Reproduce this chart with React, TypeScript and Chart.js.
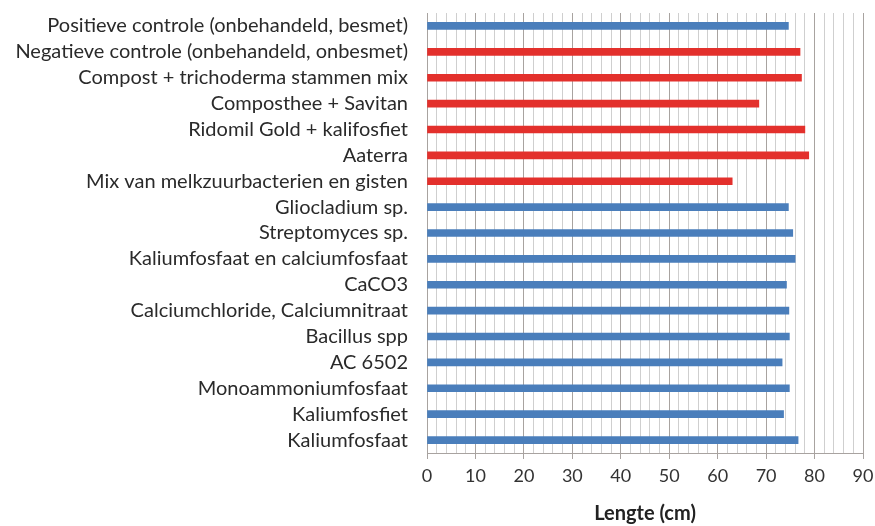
import React, { useEffect, useRef } from "react";
import { Chart, registerables } from "chart.js";

Chart.register(...registerables);

const categories = [
  "Positieve controle (onbehandeld, besmet)",
  "Negatieve controle (onbehandeld, onbesmet)",
  "Compost + trichoderma stammen mix",
  "Composthee + Savitan",
  "Ridomil Gold + kalifosfiet",
  "Aaterra",
  "Mix van melkzuurbacterien en gisten",
  "Gliocladium sp.",
  "Streptomyces sp.",
  "Kaliumfosfaat en calciumfosfaat",
  "CaCO3",
  "Calciumchloride, Calciumnitraat",
  "Bacillus spp",
  "AC 6502",
  "Monoammoniumfosfaat",
  "Kaliumfosfiet",
  "Kaliumfosfaat",
];

const lengths = [74.6, 77.0, 77.3, 68.5, 78.0, 78.8, 63.0, 74.6, 75.5, 76.0, 74.2, 74.7, 74.8, 73.3, 74.8, 73.6, 76.6];

const isRed = [false, true, true, true, true, true, true, false, false, false, false, false, false, false, false, false, false];

const xTitle = "Lengte (cm)";

const BLUE = "#4a7ebb";
const RED = "#e3302c";
const FONT = "Lato, sans-serif";

export default function App() {
  const ref = useRef<HTMLCanvasElement>(null);
  useEffect(() => {
    if (!ref.current) return;
    const chart = new Chart(ref.current, {
      type: "bar",
      data: {
        labels: categories,
        datasets: [
          {
            data: lengths,
            backgroundColor: isRed.map((r) => (r ? RED : BLUE)),
            barThickness: 7,
          },
        ],
      },
      options: {
        indexAxis: "y",
        animation: false,
        responsive: false,
        maintainAspectRatio: false,
        layout: { padding: { top: 13, right: 12, left: 0, bottom: 0 } },
        plugins: { legend: { display: false }, tooltip: { enabled: false } },
        scales: {
          x: {
            min: 0,
            max: 90,
            ticks: {
              stepSize: 2,
              autoSkip: false,
              maxRotation: 0,
              minRotation: 0,
              color: "#333",
              font: { family: FONT, size: 18 },
              padding: 6,
              callback: (v: any) => (Number(v) % 10 === 0 ? String(v) : ""),
            },
            grid: {
              color: (ctx: any) => (ctx.tick && ctx.tick.value % 10 === 0 ? "#a8a3a0" : "#cfcfcf"),
              tickColor: (ctx: any) => (ctx.tick && ctx.tick.value % 10 === 0 ? "#a8a3a0" : "rgba(0,0,0,0)"),
              tickLength: 6,
              lineWidth: 1,
            },
            border: { color: "#a8a3a0" },
            title: {
              display: true,
              text: xTitle,
              color: "#222",
              font: { family: FONT, size: 20, weight: "bold" },
              padding: { top: 8, bottom: 0 },
            },
            afterFit: (scale: any) => {
              scale.height = 73;
              scale.paddingLeft = 0;
              scale.paddingRight = 0;
            },
          },
          y: {
            ticks: {
              color: "#2a2a2a",
              font: { family: FONT, size: 20 },
              padding: 11,
              autoSkip: false,
            },
            grid: { display: false },
            border: { color: "#a8a3a0" },
            afterFit: (scale: any) => {
              scale.width = 427;
              scale.paddingTop = 0;
              scale.paddingBottom = 0;
            },
          },
        },
      },
    });
    return () => chart.destroy();
  }, []);
  return (
    <div style={{ position: "fixed", left: 0, top: 0, width: 875, height: 526, background: "#fff" }}>
      <canvas ref={ref} width={875} height={526} style={{ width: 875, height: 526 }} />
    </div>
  );
}
